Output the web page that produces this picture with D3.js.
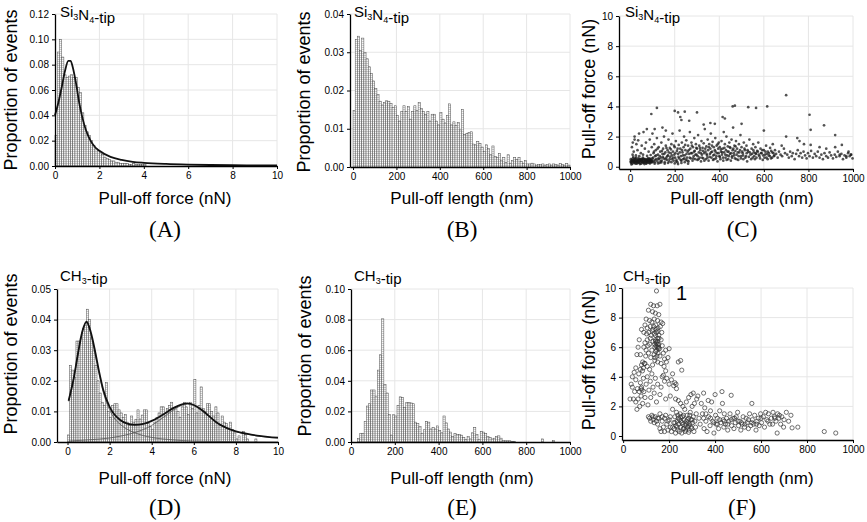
<!DOCTYPE html>
<html>
<head>
<meta charset="utf-8">
<script src="https://cdn.jsdelivr.net/npm/d3@7"></script>
<style>
  body { margin: 0; background: #fff; }
  svg { display: block; }
  .tick text { font-family: "Liberation Sans", Arial, sans-serif; font-size: 10px; fill: #000; }
  .title { font-family: "Liberation Sans", Arial, sans-serif; font-size: 17px; }
  .ytitle { font-family: "Liberation Sans", Arial, sans-serif; font-size: 18px; }
  .panel { font-family: "Liberation Serif", "Times New Roman", serif; font-size: 23px; }
  .tip { font-family: "Liberation Sans", Arial, sans-serif; font-size: 15px; }
</style>
</head>
<body>
<svg id="chart" width="867" height="522"></svg>
<script>
// ---- data ----
const forceTicks = [0, 2, 4, 6, 8, 10];
const lengthTicks = [0, 200, 400, 600, 800, 1000];
const scatterYTicks = [0, 2, 4, 6, 8, 10];

// (A) Si3N4 tip, pull-off force, 0.1 nN bins from 0
const forceBinsSiN = [0.024, 0.090, 0.100, 0.086, 0.072, 0.070, 0.071, 0.072, 0.070, 0.070,
  0.062, 0.058, 0.042, 0.032, 0.027, 0.024, 0.020, 0.016, 0.014, 0.012,
  0.011, 0.009, 0.007, 0.006, 0.005, 0.004, 0.004, 0.003, 0.003, 0.002,
  0.002, 0.002, 0.002, 0.001, 0.001, 0.002, 0.001, 0.001, 0.001, 0.001, 0.001];
const fitSiN = [[0, 0.040], [0.15, 0.050], [0.3, 0.062], [0.45, 0.075], [0.6, 0.083], [0.7, 0.083],
  [0.8, 0.078], [0.95, 0.065], [1.1, 0.049], [1.25, 0.037], [1.4, 0.028], [1.6, 0.020],
  [1.8, 0.015], [2.0, 0.012], [2.5, 0.0072], [3, 0.0048], [3.5, 0.0033], [4, 0.0025],
  [5, 0.0016], [6, 0.0011], [7, 0.0008], [8, 0.0006], [9, 0.0005], [10, 0.0004]];

// (B) Si3N4 tip, pull-off length, 10 nm bins from 0
const lengthBinsSiN = [0.0148, 0.0333, 0.0342, 0.0305, 0.0337, 0.0300, 0.0283, 0.0262, 0.0244, 0.0225,
  0.0205, 0.0190, 0.0172, 0.0162, 0.0168, 0.0173, 0.0172, 0.0166, 0.0155, 0.0160,
  0.0135, 0.0120, 0.0145, 0.0160, 0.0145, 0.0158, 0.0125, 0.0145, 0.0160, 0.0148,
  0.0168, 0.0153, 0.0145, 0.0138, 0.0145, 0.0120, 0.0138, 0.0138, 0.0120, 0.0110,
  0.0143, 0.0125, 0.0115, 0.0134, 0.0165, 0.0110, 0.0118, 0.0108, 0.0116, 0.0097,
  0.0150, 0.0085, 0.0088, 0.0090, 0.0092, 0.0060, 0.0058, 0.0067, 0.0062, 0.0052,
  0.0040, 0.0058, 0.0048, 0.0032, 0.0055, 0.0028, 0.0025, 0.0035, 0.0018, 0.0025,
  0.0012, 0.0032, 0.0010, 0.0017, 0.0025, 0.0020, 0.0025, 0.0015, 0.0010, 0.0017,
  0.0008, 0.0008, 0.0010, 0.0008, 0.0005, 0.0007, 0.0006, 0.0008, 0.0005, 0.0006,
  0.0008, 0.0005, 0.0008, 0.0006, 0.0005, 0.0009, 0.0006, 0.0005, 0.0009, 0.0005];

// (C) Si3N4 tip, length (nm) vs force (nN)
const scatterSiN = [
  [5,0.3],[8,0.45],[10,0.2],[12,0.55],[15,0.35],[18,0.25],[20,0.5],[22,0.4],[25,0.3],[27,0.6],
  [30,0.2],[32,0.45],[35,0.35],[37,0.55],[40,0.25],[42,0.4],[45,0.3],[47,0.5],[50,0.2],[52,0.35],
  [55,0.45],[57,0.6],[60,0.3],[62,0.25],[65,0.4],[67,0.5],[70,0.35],[72,0.2],[75,0.45],[77,0.3],
  [80,0.55],[82,0.4],[85,0.25],[88,0.35],[90,0.5],[93,0.3],[95,0.45],[98,0.4],[100,0.3],[3,0.5],
  [6,0.15],[14,0.65],[17,0.45],[24,0.2],[29,0.38],[34,0.28],[39,0.48],[44,0.18],[49,0.42],[54,0.28],
  [59,0.52],[64,0.18],[69,0.44],[74,0.24],[79,0.38],[84,0.48],[89,0.22],[94,0.36],[99,0.56],[11,0.8],
  [26,0.75],[41,0.7],[58,0.8],[76,0.72],[92,0.78],[16,1.0],[33,1.1],[48,0.9],[66,1.2],[83,1.0],
  [97,1.3],[8,1.3],[28,1.5],[52,1.4],[71,1.6],[88,1.8],[36,1.75],[12,1.6],
  [2,0.35],[4,0.25],[7,0.4],[9,0.3],[13,0.4],[19,0.35],[21,0.3],[23,0.55],[28,0.45],[31,0.3],
  [36,0.4],[38,0.3],[43,0.5],[46,0.4],[51,0.5],[53,0.45],[56,0.3],[61,0.4],[63,0.5],[68,0.3],
  [71,0.45],[73,0.35],[78,0.5],[81,0.3],[86,0.4],[87,0.55],[91,0.4],[96,0.3],
  [105,0.4],[105,0.9],[108,1.5],[110,0.3],[112,0.7],[115,1.1],[118,0.5],[120,1.9],[122,0.35],[125,0.8],
  [128,1.3],[130,0.5],[132,0.25],[135,1.0],[138,0.6],[140,1.6],[142,0.4],[145,0.85],[148,1.2],[150,0.55],
  [152,2.0],[155,0.3],[158,0.95],[160,1.4],[162,0.6],[165,0.45],[168,1.1],[170,0.75],[172,1.8],[175,0.35],
  [178,1.25],[180,0.65],[182,0.9],[185,1.5],[188,0.5],[190,2.2],[192,1.0],[195,0.4],[198,0.8],[200,1.3],
  [202,0.6],[205,1.7],[208,0.45],[210,1.05],[212,0.3],[215,0.85],[218,1.45],[220,0.55],[222,2.4],[225,1.2],
  [228,0.7],[230,0.4],[232,1.6],[235,0.95],[238,0.5],[240,1.3],[242,2.0],[245,0.75],[248,1.1],[250,0.45],
  [252,1.75],[255,0.6],[258,1.0],[260,1.4],[262,0.35],[265,0.85],[268,2.3],[270,1.2],[272,0.55],[275,1.6],
  [278,0.9],[280,0.4],[282,1.3],[285,0.7],[288,1.9],[290,1.05],[292,0.5],[295,1.5],[298,0.8],[300,1.2],
  [302,0.45],[305,2.1],[308,0.95],[310,1.4],[312,0.6],[315,1.1],[318,0.35],[320,1.7],[322,0.8],[325,1.25],
  [328,0.55],[330,1.55],[332,0.9],[335,2.5],[338,1.0],[340,0.5],[342,1.35],[345,0.75],[348,1.8],[350,1.1],
  [352,0.4],[355,1.5],[358,0.85],[360,1.2],[362,2.2],[365,0.6],[368,1.0],[370,1.65],[372,0.45],[375,1.3],
  [378,0.8],[380,1.1],[382,1.9],[385,0.55],[388,1.4],[390,0.9],[392,0.35],[395,1.2],[398,1.6],[400,0.7],
  [110,0.2],[125,0.22],[140,0.28],[155,0.2],[170,0.25],[185,0.3],[200,0.22],[215,0.18],[230,0.25],[245,0.3],[260,0.2],
  [103,0.6],[107,1.0],[113,0.45],[117,0.75],[123,1.2],[127,0.55],[133,0.7],[137,0.35],[143,1.05],[147,0.65],
  [153,0.85],[157,0.5],[163,1.25],[167,0.7],[173,0.95],[177,0.5],[183,1.15],[187,0.75],[193,0.6],[197,1.4],
  [203,0.9],[207,0.35],[213,1.2],[217,0.65],[223,0.95],[227,0.45],[233,1.1],[237,0.75],[243,0.55],[247,1.45],
  [253,0.85],[257,0.4],[263,1.1],[267,0.6],[273,0.9],[277,1.4],[283,0.55],[287,1.0],[293,0.8],[297,1.25],
  [303,0.7],[307,0.5],[313,1.25],[317,0.9],[323,0.6],[327,1.05],[333,0.4],[337,1.2],[343,0.85],[347,0.6],
  [353,1.3],[357,0.65],[363,0.95],[367,1.4],[373,0.75],[377,0.5],[383,1.0],[387,0.7],[393,1.5],[397,0.9],
  [403,0.65],[407,1.15],[413,0.95],[417,0.6],[423,1.25],[427,0.8],[433,0.45],[437,1.0],[443,0.7],[447,1.3],
  [453,0.9],[457,0.6],[463,1.2],[467,0.75],[473,1.35],[477,0.5],[483,0.95],[487,0.7],[493,1.1],[497,0.55],
  [503,1.0],[507,0.75],[513,1.2],[517,0.6],[523,0.9],[527,1.1],[533,0.65],[537,0.95],[543,0.5],[547,0.85],
  [553,1.1],[557,0.7],[563,0.9],[567,0.6],[573,1.0],[577,0.8],[583,0.55],[587,0.9],[593,1.1],[597,0.75],
  [603,0.6],[607,1.0],[613,0.85],[617,0.5],[623,0.9],[627,0.7],[633,1.05],[637,0.6],[643,0.9],[647,0.75],
  [402,1.3],[405,0.5],[408,1.0],[410,1.7],[412,0.8],[415,1.2],[418,0.4],[420,2.3],[422,0.95],[425,1.5],
  [428,0.6],[430,1.1],[432,2.0],[435,0.75],[438,1.35],[440,0.5],[442,1.0],[445,1.6],[448,0.85],[450,1.25],
  [452,0.4],[455,1.8],[458,0.7],[460,1.1],[462,2.6],[465,0.9],[468,1.4],[470,0.55],[472,1.05],[475,1.7],
  [478,0.8],[480,1.2],[485,0.45],[488,1.5],[490,0.95],[495,2.1],[498,0.7],[500,1.3],[505,0.9],[508,0.5],
  [510,1.6],[515,1.1],[520,0.7],[522,1.4],[525,0.35],[530,1.0],[535,1.8],[540,0.8],[545,1.2],[550,0.6],
  [552,1.5],[555,0.95],[560,0.5],[562,1.3],[565,0.85],[570,1.05],[575,1.6],[580,0.7],[585,1.2],[590,0.9],
  [595,0.45],[600,1.1],[605,0.8],[610,1.4],[612,0.6],[618,1.0],[622,0.75],[628,1.25],[632,0.55],[638,0.95],
  [645,0.7],[650,1.1],[655,0.85],[662,0.6],[668,1.0],[675,0.8],[682,0.7],[690,1.2],[695,0.9],
  [705,0.8],[712,0.6],[718,1.0],[725,0.7],[730,0.9],[738,0.5],[745,0.85],[752,1.1],[758,0.7],[765,0.9],
  [772,0.6],[778,1.0],[785,0.75],[792,0.55],[798,0.9],[805,0.7],[812,1.05],[820,0.6],[828,0.85],[835,0.7],
  [842,1.0],[850,0.6],[858,0.8],[865,0.5],[872,0.9],[880,0.7],[888,0.6],[895,0.95],[902,0.75],[910,0.55],
  [918,0.8],[925,0.65],[932,1.0],[940,0.7],[948,0.85],[955,0.5],[962,0.75],[970,0.6],[978,0.9],[985,0.7],
  [992,0.8],[998,0.55],
  [120,3.9],[95,3.5],[200,3.7],[215,3.6],[245,3.65],[300,3.6],[460,4.0],[470,4.05],[530,3.95],[565,3.9],
  [615,4.0],[700,4.75],[805,3.45],[810,2.45],[870,2.75],[920,2.1],[500,2.85],[415,3.3],[425,3.2],[360,2.9],
  [380,2.85],[225,3.3],[230,3.1],[265,3.05],[330,2.8],[60,2.3],[75,2.5],[40,2.2],[20,1.8],[20,2.0],
  [145,2.6],[160,2.4],[110,2.5],[100,2.2],[600,2.4],[640,1.5],[680,1.4],[700,2.0],[750,1.9],[760,1.7],
  [780,1.5],[810,1.45],[850,1.3],[880,1.2],[920,1.3],[950,1.45],[980,1.0],[990,0.8],[970,0.7],[940,0.8]
];

// (D) CH3 tip, pull-off force, 0.1 nN bins from 0
const forceBinsCH3 = [0.0023, 0.025, 0.0235, 0.021, 0.033, 0.033, 0.034, 0.037, 0.038, 0.0434,
  0.040, 0.034, 0.030, 0.025, 0.020, 0.016, 0.013, 0.012, 0.0195, 0.010,
  0.008, 0.012, 0.0125, 0.0125, 0.0105, 0.0095, 0.008, 0.009, 0.0065, 0.0055,
  0.0085, 0.0065, 0.0073, 0.0105, 0.0075, 0.0088, 0.0105, 0.0105, 0.006, 0.005,
  0.004, 0.0065, 0.008, 0.0095, 0.0115, 0.0115, 0.0085, 0.011, 0.012, 0.013,
  0.0105, 0.0115, 0.010, 0.008, 0.0115, 0.013, 0.0115, 0.009, 0.013, 0.011,
  0.0205, 0.0095, 0.012, 0.018, 0.011, 0.010, 0.0125, 0.0125, 0.010, 0.0085,
  0.0115, 0.0095, 0.0055, 0.0085, 0.0065, 0.006, 0.0045, 0.0065, 0.004, 0.003,
  0.001, 0.002, 0, 0.0035, 0.0025, 0.001, 0, 0, 0, 0.001];
const fitCH3 = [[0.05,0.0135],[0.3,0.021],[0.5,0.029],[0.7,0.036],[0.9,0.0393],[1.1,0.036],[1.3,0.030],
  [1.5,0.023],[1.7,0.017],[2.0,0.0115],[2.2,0.0092],[2.5,0.0072],[2.8,0.0061],[3.2,0.0056],[3.6,0.0059],
  [4.0,0.0069],[4.5,0.0088],[5.0,0.0110],[5.4,0.0122],[5.7,0.0126],[6.0,0.0121],[6.3,0.0109],[6.7,0.0086],
  [7.1,0.0063],[7.5,0.0048],[8.0,0.0035],[8.5,0.0027],[9.0,0.0021],[9.5,0.0017],[10,0.0014]];
const fitCH3Peak1 = [[0.05,0.0133],[0.3,0.021],[0.5,0.029],[0.7,0.036],[0.9,0.039],[1.1,0.0355],[1.3,0.029],
  [1.5,0.0222],[1.7,0.0162],[2.0,0.0105],[2.2,0.008],[2.5,0.0058],[2.8,0.0043],[3.2,0.003],[3.6,0.0021],
  [4.0,0.0015],[4.5,0.001],[5.0,0.0007],[6,0.0003],[7,0.0002],[8,0.0001],[10,0]];
const fitCH3Peak2 = [[0.05,0.0003],[1,0.0007],[2,0.0013],[2.5,0.0019],[3.0,0.0027],[3.5,0.0038],[4.0,0.0054],
  [4.5,0.0078],[5.0,0.0103],[5.4,0.0119],[5.7,0.0124],[6.0,0.0119],[6.3,0.0107],[6.7,0.0085],[7.1,0.0062],
  [7.5,0.0047],[8.0,0.0034],[8.5,0.0026],[9.0,0.002],[9.5,0.0016],[10,0.0013]];

// (E) CH3 tip, pull-off length, 10 nm bins from 0
const lengthBinsCH3 = [0, 0, 0, 0.0024, 0.0055, 0.0055, 0.0133, 0.0235, 0.0250, 0.0340,
  0.0340, 0.0300, 0.0470, 0.0570, 0.0805, 0.0375, 0.0320, 0.0180, 0.0045, 0.0178,
  0.0170, 0.0240, 0.0295, 0.0292, 0.0225, 0.0258, 0.0258, 0.0255, 0.0250, 0.0130,
  0.0120, 0.0100, 0.0055, 0.0080, 0.0135, 0.0130, 0.0085, 0.0095, 0.0085, 0.0105,
  0.0075, 0.0060, 0.0170, 0.0125, 0.0085, 0.0065, 0.0035, 0.0055, 0.0050, 0.0050,
  0.0045, 0.0030, 0.0015, 0.0035, 0.0020, 0.0060, 0.0095, 0.0050, 0.0015, 0.0070,
  0.0065, 0.0055, 0.0035, 0.0030, 0.0020, 0.0025, 0.0035, 0.0040, 0.0025, 0.0010,
  0.0008, 0.0008, 0.0008, 0.0005, 0.0005, 0, 0, 0, 0, 0,
  0, 0, 0, 0, 0, 0, 0, 0.0020, 0, 0,
  0, 0, 0.0010, 0, 0, 0, 0, 0, 0, 0];

// (F) CH3 tip, length (nm) vs force (nN)
const scatterCH3 = [
  [145,9.8],[120,8.9],[132,8.8],[148,8.8],[160,8.9],[110,8.5],[128,8.4],[140,8.3],[155,8.2],[100,7.9],
  [115,7.8],[125,7.7],[135,7.9],[150,7.8],[165,7.7],[95,7.5],[105,7.3],[118,7.4],[130,7.2],[142,7.5],
  [152,7.3],[162,7.4],[172,7.6],[90,7.0],[102,6.9],[112,7.0],[122,6.8],[135,6.9],[145,7.0],[155,6.8],
  [168,7.0],[140,6.5],[145,6.3],[150,6.6],[155,6.2],[138,6.0],[148,6.0],[158,5.9],[142,5.7],[152,5.6],
  [135,5.5],[160,5.4],[125,5.8],[115,6.2],[105,6.5],[95,6.3],[130,6.4],[165,6.5],[170,6.1],[175,5.6],
  [180,5.2],[120,5.3],[110,5.6],[100,5.8],[90,6.0],[85,5.0],[95,4.9],[80,4.8],[88,4.6],[75,4.5],
  [105,4.7],[115,4.5],[128,4.8],[138,5.1],[150,5.0],[165,4.9],[178,4.7],[188,5.0],[195,5.3],[200,5.9],
  [185,5.8],[240,5.0],[250,5.1],[255,4.45],[65,6.0],[70,6.5],[80,7.2],[60,5.5],[75,5.5],
  [137,6.2],[141,6.8],[143,6.1],[146,5.8],[149,6.4],[151,7.1],[153,5.9],[156,6.6],[144,7.2],[139,5.3],
  [147,5.4],[154,6.0],[141,6.4],[150,6.2],[133,7.4],[126,7.1],[118,6.6],[108,6.1],[98,5.4],[92,4.9],
  [84,4.4],[82,3.1],[78,3.2],
  [30,2.5],[35,3.5],[40,3.3],[40,4.0],[45,2.5],[50,3.0],[55,3.8],[55,2.3],[60,1.8],[62,3.2],
  [65,2.5],[68,4.2],[70,3.0],[72,2.0],[75,3.6],[78,2.7],[80,3.3],[85,2.2],[88,3.9],[90,3.0],
  [95,2.6],[100,3.5],[105,4.0],[108,2.1],[112,3.1],[118,3.7],[120,2.6],[125,4.2],[130,3.3],[135,2.9],
  [140,3.9],[145,2.3],[150,3.5],[160,2.8],[165,3.3],[175,4.1],[180,3.7],[185,2.5],[190,3.9],[200,3.5],
  [205,2.7],[210,3.8],[215,4.2],[220,3.4],[225,3.6],[230,3.5],[232,3.2],[228,2.5],[185,4.4],[170,4.0],
  [55,4.6],[48,4.3],
  [110,1.3],[115,1.2],[120,1.0],[125,1.4],[130,1.1],[135,0.9],[140,1.3],[145,1.0],[150,0.8],[155,1.2],
  [160,0.5],[165,0.3],[170,1.0],[175,0.6],[180,0.3],[185,1.4],[190,0.8],[195,0.4],[200,1.1],[205,0.6],
  [210,0.3],[215,1.8],[220,0.9],[222,0.5],[225,1.3],[228,0.2],[230,0.7],[232,1.6],[235,1.0],[238,0.4],
  [240,1.2],[242,0.8],[245,0.3],[248,1.5],[250,0.6],[252,1.0],[255,0.2],[258,1.3],[260,0.8],[262,0.5],
  [265,1.1],[268,1.8],[270,0.7],[272,0.4],[275,1.0],[278,1.4],[280,0.6],[282,0.9],[285,1.2],[288,0.4],
  [290,0.8],[292,1.6],[295,1.1],[298,0.5],[300,2.0],[302,0.9],[305,1.3],[308,0.3],[310,2.2],[312,1.0],
  [315,0.6],[318,1.5],[320,2.5],[260,2.0],[250,2.2],[240,2.4],[275,2.3],[285,2.6],[295,2.8],[305,2.9],
  [325,2.7],
  [225,0.9],[235,0.6],[245,1.1],[255,0.9],[265,0.5],[275,0.8],[285,0.7],[295,0.6],[238,1.4],[250,1.3],
  [262,1.4],[280,1.1],[290,1.4],[300,1.1],[270,0.3],[285,0.25],[215,0.6],[205,1.3],[195,1.0],[180,1.2],
  [170,1.3],[150,1.2],[160,1.5],[130,1.3],
  [330,1.2],[335,0.8],[340,2.2],[345,1.5],[350,2.9],[352,0.5],[355,1.9],[360,1.0],[365,0.3],[370,2.4],
  [372,1.3],[378,0.7],[380,1.7],[385,2.3],[390,1.0],[395,0.2],[400,2.8],[402,1.4],[405,0.8],[410,1.2],
  [415,0.5],[420,1.7],[425,0.9],[430,3.0],[432,2.2],[435,1.1],[438,0.6],[440,1.5],[445,0.8],[450,1.2],
  [455,0.4],[460,1.0],[465,1.5],[470,2.75],[472,0.7],[478,1.2],[482,0.5],[488,0.9],[492,1.3],[498,1.6],
  [502,0.7],[508,1.0],[512,0.4],[518,0.8],[522,1.3],[528,0.6],[535,1.2],[540,0.9],[545,0.5],[550,1.5],
  [555,0.7],[560,2.2],[562,1.1],[568,0.8],[572,1.4],[578,0.4],[582,1.0],[588,1.2],[592,0.7],[598,1.5],
  [602,0.9],[610,1.3],[615,0.6],[620,1.6],[625,1.1],[632,1.5],[638,0.8],[645,1.2],[652,1.6],[658,1.3],
  [665,1.0],[670,0.2],[672,1.5],[678,1.2],[685,0.8],[690,1.3],[698,0.6],[710,1.6],[720,1.0],[730,1.4],
  [735,0.55],[760,0.6],[875,0.3],[925,0.2],
  [350,1.2],[360,1.5],[380,1.2],[395,0.9],[410,0.8],[420,1.1],[440,1.0],[455,0.8],[470,1.1],[485,1.2],
  [500,1.0],[515,0.9],[530,0.8],[545,1.1],[560,0.9],[580,0.8],[600,1.2],[630,1.0],[650,0.8],[660,1.2],
  [680,1.4],[700,1.1]
];

// ---- drawing ----
const svg = d3.select("#chart");

const defs = svg.append("defs");
const hatch = defs.append("pattern")
    .attr("id", "hatch")
    .attr("patternUnits", "userSpaceOnUse")
    .attr("width", 4).attr("height", 2);
hatch.append("rect").attr("width", 4).attr("height", 2).attr("fill", "#fafafa");
hatch.append("line")
    .attr("x1", 0).attr("x2", 4).attr("y1", 1.5).attr("y2", 1.5)
    .attr("stroke", "#b0b0b0").attr("stroke-width", 0.6);

function panel(o) {
  const x = d3.scaleLinear().domain(o.xDomain).range(o.xRange);
  const y = d3.scaleLinear().domain(o.yDomain).range(o.yRange);
  const g = svg.append("g");
  const [x0, x1] = o.xRange;
  const [y0, y1] = o.yRange;

  // light grid
  g.append("g").selectAll("line")
      .data(o.xTicks.filter(t => t > o.xTicks[0]))
    .join("line")
      .attr("x1", d => x(d)).attr("x2", d => x(d))
      .attr("y1", y0).attr("y2", y1)
      .attr("stroke", "#e6e6e6").attr("stroke-width", 1);
  g.append("g").selectAll("line")
      .data(o.yTicks.filter(t => t > o.yTicks[0]))
    .join("line")
      .attr("x1", x0).attr("x2", x1)
      .attr("y1", d => y(d)).attr("y2", d => y(d))
      .attr("stroke", "#e6e6e6").attr("stroke-width", 1);

  const plot = g.append("g");

  g.append("g")
      .attr("transform", `translate(0,${y0})`)
      .call(d3.axisBottom(x).tickValues(o.xTicks).tickSize(3).tickSizeOuter(0).tickFormat(d3.format("d")))
      .call(a => a.select(".domain").attr("stroke-width", 1.3));
  g.append("g")
      .attr("transform", `translate(${x0},0)`)
      .call(d3.axisLeft(y).tickValues(o.yTicks).tickSize(3).tickSizeOuter(0).tickFormat(d3.format(o.yFormat)))
      .call(a => a.select(".domain").attr("stroke-width", 1.3));

  // axis titles and panel letter
  g.append("text")
      .attr("class", "title")
      .attr("x", o.titleX).attr("y", o.titleY)
      .attr("text-anchor", "middle")
      .text(o.xTitle);
  g.append("text")
      .attr("class", "ytitle")
      .attr("transform", `translate(${o.yTitleX},${o.yTitleY}) rotate(-90)`)
      .attr("text-anchor", "middle")
      .text(o.yTitle);
  g.append("text")
      .attr("class", "panel")
      .attr("x", o.titleX).attr("y", o.letterY)
      .attr("text-anchor", "middle")
      .text(o.letter);

  // tip label with subscripts
  const tip = g.append("text").attr("class", "tip").attr("x", o.tipX).attr("y", o.tipY);
  o.tip.forEach(([txt, sub]) => {
    tip.append("tspan").text(txt);
    if (sub) tip.append("tspan").attr("font-size", 9).attr("dy", 3).text(sub)
      .call(() => tip.append("tspan").attr("dy", -3).text(""));
  });

  return { plot, x, y };
}

function bars(p, bins, width) {
  p.plot.append("g").selectAll("rect")
      .data(bins.map((v, i) => ({ x: i * width, v })).filter(d => d.v > 0))
    .join("rect")
      .attr("x", d => p.x(d.x))
      .attr("width", d => p.x(d.x + width) - p.x(d.x))
      .attr("y", d => p.y(d.v))
      .attr("height", d => p.y(0) - p.y(d.v))
      .attr("fill", "url(#hatch)")
      .attr("stroke", "#4a4a4a")
      .attr("stroke-width", 0.5);
}

function curve(p, pts, width, color) {
  const line = d3.line().x(d => p.x(d[0])).y(d => p.y(d[1])).curve(d3.curveMonotoneX);
  p.plot.append("path")
      .attr("d", line(pts))
      .attr("fill", "none")
      .attr("stroke", color)
      .attr("stroke-width", width);
}

const siTip = [["Si", "3"], ["N", "4"], ["-tip"]];
const chTip = [["CH", "3"], ["-tip"]];

// (A)
const pA = panel({
  xDomain: [0, 10], xRange: [55, 277], yDomain: [0, 0.12], yRange: [166, 14],
  xTicks: forceTicks, yTicks: [0, 0.02, 0.04, 0.06, 0.08, 0.10, 0.12], yFormat: ".2f",
  xTitle: "Pull-off force (nN)", yTitle: "Proportion of events", letter: "(A)",
  titleX: 165, titleY: 204, letterY: 237, yTitleX: 17, yTitleY: 90,
  tip: siTip, tipX: 60, tipY: 17
});
bars(pA, forceBinsSiN, 0.1);
curve(pA, fitSiN, 1.8, "#111");

// (B)
const pB = panel({
  xDomain: [-14, 1000], xRange: [350, 570], yDomain: [0, 0.04], yRange: [167, 14],
  xTicks: lengthTicks, yTicks: [0, 0.01, 0.02, 0.03, 0.04], yFormat: ".2f",
  xTitle: "Pull-off length (nm)", yTitle: "Proportion of events", letter: "(B)",
  titleX: 462, titleY: 204, letterY: 237, yTitleX: 310, yTitleY: 92,
  tip: siTip, tipX: 354, tipY: 17
});
bars(pB, lengthBinsSiN, 10);

// (C)
const pC = panel({
  xDomain: [-50, 1000], xRange: [619, 853], yDomain: [-0.15, 10], yRange: [169, 16],
  xTicks: lengthTicks, yTicks: scatterYTicks, yFormat: "d",
  xTitle: "Pull-off length (nm)", yTitle: "Pull-off force (nN)", letter: "(C)",
  titleX: 742, titleY: 204, letterY: 237, yTitleX: 595, yTitleY: 89,
  tip: siTip, tipX: 625, tipY: 17
});
pC.plot.append("g").selectAll("circle")
    .data(scatterSiN)
  .join("circle")
    .attr("cx", d => pC.x(d[0]))
    .attr("cy", d => pC.y(d[1]))
    .attr("r", 1.35)
    .attr("fill", "#1a1a1a")
    .attr("fill-opacity", 0.75);

// (D)
const pD = panel({
  xDomain: [-0.5, 10], xRange: [57, 278], yDomain: [0, 0.05], yRange: [442, 289],
  xTicks: forceTicks, yTicks: [0, 0.01, 0.02, 0.03, 0.04, 0.05], yFormat: ".2f",
  xTitle: "Pull-off force (nN)", yTitle: "Proportion of events", letter: "(D)",
  titleX: 165, titleY: 484, letterY: 515, yTitleX: 17, yTitleY: 354,
  tip: chTip, tipX: 60, tipY: 281
});
bars(pD, forceBinsCH3, 0.1);
curve(pD, fitCH3Peak1, 0.8, "#555");
curve(pD, fitCH3Peak2, 0.8, "#555");
curve(pD, fitCH3, 1.8, "#111");

// (E)
const pE = panel({
  xDomain: [0, 1000], xRange: [351, 570], yDomain: [0, 0.10], yRange: [442, 289],
  xTicks: lengthTicks, yTicks: [0, 0.02, 0.04, 0.06, 0.08, 0.10], yFormat: ".2f",
  xTitle: "Pull-off length (nm)", yTitle: "Proportion of events", letter: "(E)",
  titleX: 462, titleY: 484, letterY: 515, yTitleX: 311, yTitleY: 356,
  tip: chTip, tipX: 354, tipY: 281
});
bars(pE, lengthBinsCH3, 10);

// (F)
const pF = panel({
  xDomain: [-5, 1000], xRange: [622, 853], yDomain: [-0.27, 10], yRange: [440, 288],
  xTicks: lengthTicks, yTicks: scatterYTicks, yFormat: "d",
  xTitle: "Pull-off length (nm)", yTitle: "Pull-off force (nN)", letter: "(F)",
  titleX: 742, titleY: 484, letterY: 515, yTitleX: 595, yTitleY: 360,
  tip: chTip, tipX: 623, tipY: 281
});
pF.plot.append("g").selectAll("circle")
    .data(scatterCH3)
  .join("circle")
    .attr("cx", d => pF.x(d[0]))
    .attr("cy", d => pF.y(d[1]))
    .attr("r", 2.1)
    .attr("fill", "none")
    .attr("stroke", "#333")
    .attr("stroke-width", 0.7);

// stray mark printed in the original figure
svg.append("text")
    .attr("x", 676).attr("y", 300)
    .attr("font-family", "Liberation Sans, Arial, sans-serif")
    .attr("font-size", 20)
    .text("1");
</script>
</body>
</html>
